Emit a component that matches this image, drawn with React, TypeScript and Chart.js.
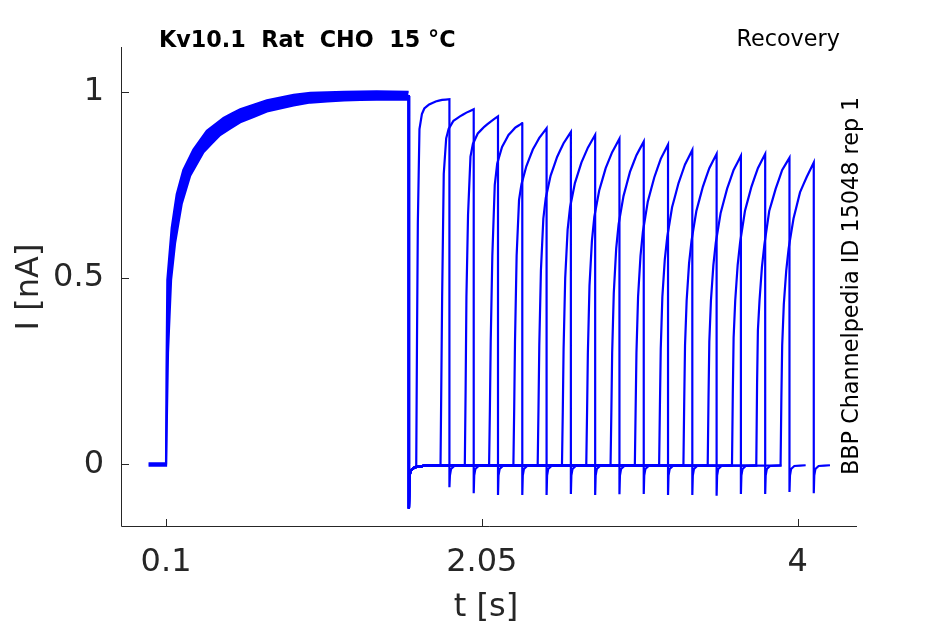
import React, { useEffect, useRef } from 'react';
import { Chart, registerables } from 'chart.js';

Chart.register(...registerables);

const BLUE = '#0000ff';
const INK = '#262626';
const FONT = "'DejaVu Sans', sans-serif";

// axes
const xTicks = [0.1, 2.05, 4];
const xTickLabels = ['0.1', '2.05', '4'];
const yTicks = [0, 0.5, 1];
const yTickLabels = ['0', '0.5', '1'];

// prepulse: upper and lower edge of the overlaid sweeps (t in s, I in nA)
const preUpperT = [-0.008, 0.1, 0.103, 0.108, 0.135, 0.166, 0.207, 0.269, 0.352, 0.455, 0.558, 0.723, 0.888, 0.991, 1.2, 1.4, 1.598];
const preUpperI = [0.003, 0.003, 0.25, 0.495, 0.635, 0.725, 0.79, 0.845, 0.895, 0.93, 0.953, 0.977, 0.992, 0.997, 1.0, 1.001, 1.0];
const preLowerT = [-0.008, 0.1, 0.112, 0.131, 0.156, 0.197, 0.249, 0.331, 0.434, 0.558, 0.723, 0.888, 0.991, 1.2, 1.4, 1.598];
const preLowerI = [-0.003, -0.003, 0.3, 0.495, 0.595, 0.7, 0.775, 0.838, 0.884, 0.918, 0.947, 0.963, 0.971, 0.977, 0.979, 0.979];

// deactivation tail after the prepulse
const preTailT = [1.6, 1.6, 1.602, 1.608, 1.62, 1.64, 1.7];
const preTailI = [0.99, -0.118, -0.04, -0.02, -0.012, -0.007, -0.003];

// test pulses, one per sweep
const testStart = [1.645, 1.795, 1.945, 2.095, 2.245, 2.395, 2.545, 2.695, 2.845, 2.995, 3.145, 3.295, 3.445, 3.595, 3.745, 3.895];
const testEnd = [1.85, 2.0, 2.15, 2.3, 2.45, 2.6, 2.75, 2.9, 3.05, 3.2, 3.35, 3.5, 3.65, 3.8, 3.95, 4.1];
const riseT = [0.005, 0.01, 0.02, 0.035, 0.05, 0.08, 0.12, 0.16];
const riseI = [
  [0.35, 0.65, 0.9, 0.94, 0.955, 0.966, 0.974, 0.978],
  [0.22, 0.45, 0.78, 0.875, 0.9, 0.922, 0.934, 0.944],
  [0.2, 0.45, 0.67, 0.826, 0.86, 0.888, 0.906, 0.92],
  [0.15, 0.33, 0.56, 0.75, 0.807, 0.852, 0.884, 0.903],
  [0.15, 0.33, 0.56, 0.71, 0.752, 0.8, 0.845, 0.876],
  [0.15, 0.32, 0.52, 0.66, 0.715, 0.775, 0.825, 0.862],
  [0.14, 0.31, 0.5, 0.63, 0.69, 0.755, 0.81, 0.85],
  [0.14, 0.3, 0.48, 0.6, 0.665, 0.735, 0.795, 0.838],
  [0.14, 0.3, 0.46, 0.58, 0.645, 0.72, 0.785, 0.83],
  [0.15, 0.3, 0.45, 0.56, 0.625, 0.705, 0.77, 0.82],
  [0.16, 0.31, 0.45, 0.55, 0.61, 0.69, 0.755, 0.805],
  [0.17, 0.32, 0.44, 0.54, 0.6, 0.68, 0.745, 0.795],
  [0.18, 0.33, 0.44, 0.535, 0.595, 0.675, 0.74, 0.79],
  [0.19, 0.34, 0.44, 0.535, 0.595, 0.68, 0.745, 0.795],
  [0.22, 0.36, 0.44, 0.53, 0.59, 0.68, 0.74, 0.79],
  [0.18, 0.32, 0.43, 0.52, 0.58, 0.66, 0.73, 0.77],
];
const peakI = [0.98, 0.953, 0.934, 0.916, 0.902, 0.892, 0.884, 0.874, 0.866, 0.858, 0.844, 0.833, 0.828, 0.833, 0.823, 0.81];
const spikeI = [-0.061, -0.077, -0.082, -0.082, -0.082, -0.079, -0.082, -0.08, -0.079, -0.082, -0.082, -0.084, -0.079, -0.079, -0.074, -0.077];
const tailT = [0.003, 0.01, 0.03, 0.1];
const tailI = [-0.03, -0.012, -0.004, -0.002];

type Pt = { x: number; y: number };

const zip = (ts: number[], vs: number[]): Pt[] => ts.map((t, i) => ({ x: t, y: vs[i] }));

function sweep(k: number): Pt[] {
  const pts: Pt[] = [];
  preTailT.forEach((t, i) => {
    if (t < testStart[k]) pts.push({ x: t, y: preTailI[i] });
  });
  pts.push({ x: testStart[k], y: -0.003 });
  riseT.forEach((dt, i) => pts.push({ x: testStart[k] + dt, y: riseI[k][i] }));
  pts.push({ x: testEnd[k], y: peakI[k] });
  pts.push({ x: testEnd[k], y: spikeI[k] });
  tailT.forEach((dt, i) => pts.push({ x: testEnd[k] + dt, y: tailI[i] }));
  return pts;
}

// a tiny tension keeps chart.js off its fast path, which drew stray stubs
const lineStyle = {
  borderColor: BLUE,
  backgroundColor: BLUE,
  borderWidth: 2.2,
  pointRadius: 0,
  tension: 0.0001,
};

const decorations = {
  id: 'decorations',
  afterDraw(chart: Chart) {
    const { ctx, chartArea: ca } = chart;
    const xs = chart.scales.x;
    const ys = chart.scales.y;
    ctx.save();
    ctx.strokeStyle = INK;
    ctx.lineWidth = 1;
    ctx.beginPath();
    ctx.moveTo(ca.left - 0.5, ca.top);
    ctx.lineTo(ca.left - 0.5, ca.bottom + 0.5);
    ctx.lineTo(ca.right, ca.bottom + 0.5);
    yTicks.forEach((v) => {
      const y = Math.round(ys.getPixelForValue(v)) + 0.5;
      ctx.moveTo(ca.left - 0.5, y);
      ctx.lineTo(ca.left + 7, y);
    });
    xTicks.forEach((v) => {
      const x = Math.round(xs.getPixelForValue(v)) + 0.5;
      ctx.moveTo(x, ca.bottom + 0.5);
      ctx.lineTo(x, ca.bottom - 7);
    });
    ctx.stroke();

    ctx.fillStyle = '#000';
    ctx.textBaseline = 'alphabetic';
    ctx.textAlign = 'left';
    ctx.font = `bold 22.3px ${FONT}`;
    ctx.fillText('Kv10.1  Rat  CHO  15 °C', 159, 47);
    ctx.font = `22.3px ${FONT}`;
    ctx.fillText('Recovery', 736.5, 46);

    ctx.save();
    ctx.translate(858, 475);
    ctx.rotate(-Math.PI / 2);
    ctx.fillText('BBP Channelpedia ID 15048 rep 1', 0, 0);
    ctx.restore();

    ctx.fillStyle = INK;
    ctx.font = `32px ${FONT}`;
    ctx.textAlign = 'center';
    ctx.fillText('t [s]', 486, 616);
    ctx.save();
    ctx.translate(38, 287);
    ctx.rotate(-Math.PI / 2);
    ctx.fillText('I [nA]', 0, 0);
    ctx.restore();
    ctx.restore();
  },
};

const App: React.FC = () => {
  const chartRef = useRef<HTMLCanvasElement>(null);

  useEffect(() => {
    if (!chartRef.current) return;
    const datasets: any[] = [
      { ...lineStyle, data: zip(preUpperT, preUpperI), fill: false },
      { ...lineStyle, data: zip(preLowerT, preLowerI), fill: '-1' },
    ];
    testStart.forEach((_, k) => datasets.push({ ...lineStyle, data: sweep(k), fill: false }));

    const chart = new Chart(chartRef.current, {
      type: 'line',
      data: { datasets },
      options: {
        animation: false,
        responsive: false,
        parsing: false,
        layout: { padding: { left: 0, right: 88, top: 47, bottom: 0 } },
        plugins: { legend: { display: false }, tooltip: { enabled: false } },
        scales: {
          x: {
            type: 'linear',
            min: -0.172,
            max: 4.367,
            grid: { display: false, drawTicks: false },
            border: { display: false },
            afterBuildTicks: (s: any) => {
              s.ticks = xTicks.map((v) => ({ value: v }));
            },
            afterFit: (s: any) => {
              s.height = 98;
            },
            ticks: {
              autoSkip: false,
              maxRotation: 0,
              padding: 17,
              color: INK,
              font: { family: FONT, size: 32 },
              callback: (v: any) => xTickLabels[xTicks.indexOf(Number(v))] ?? '',
            },
          },
          y: {
            type: 'linear',
            min: -0.165,
            max: 1.12,
            grid: { display: false, drawTicks: false },
            border: { display: false },
            afterBuildTicks: (s: any) => {
              s.ticks = yTicks.map((v) => ({ value: v }));
            },
            afterFit: (s: any) => {
              s.width = 122;
            },
            ticks: {
              padding: 18,
              color: INK,
              font: { family: FONT, size: 32 },
              callback: (v: any) => yTickLabels[yTicks.indexOf(Number(v))] ?? '',
            },
          },
        },
      },
      plugins: [decorations],
    });
    return () => chart.destroy();
  }, []);

  return (
    <div style={{ position: 'fixed', left: 0, top: 0, width: 945, height: 624, background: '#fff' }}>
      <canvas ref={chartRef} width={945} height={624} style={{ display: 'block', width: 945, height: 624 }} />
    </div>
  );
};

export default App;
